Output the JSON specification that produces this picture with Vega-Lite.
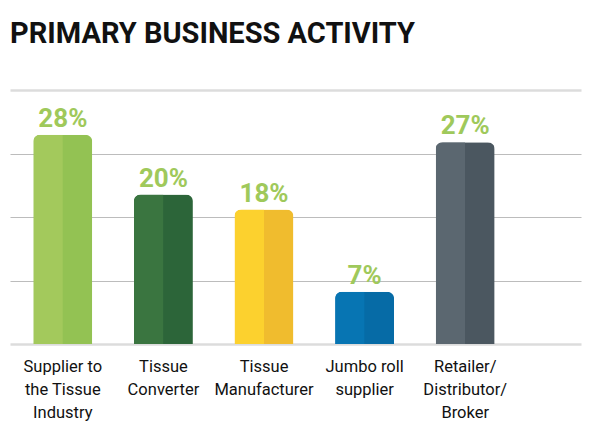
{
  "$schema": "https://vega.github.io/schema/vega-lite/v6.json",
  "width": 571,
  "height": 254,
  "autosize": {"type": "none"},
  "padding": {"left": 10, "top": 90, "right": 10, "bottom": 93},
  "background": "white",
  "title": {
    "text": "PRIMARY BUSINESS ACTIVITY",
    "anchor": "start",
    "font": "Roboto",
    "fontSize": 29,
    "fontWeight": "bold",
    "color": "#111111",
    "offset": 18,
    "baseline": "alphabetic"
  },
  "config": {"view": {"stroke": null}},
  "data": {
    "values": [
      {"activity": "Supplier to|the Tissue|Industry", "pct": 28, "label": "28%"},
      {"activity": "Tissue|Converter", "pct": 20, "label": "20%"},
      {"activity": "Tissue|Manufacturer", "pct": 18, "label": "18%"},
      {"activity": "Jumbo roll|supplier", "pct": 7, "label": "7%"},
      {"activity": "Retailer/|Distributor/|Broker", "pct": 27, "label": "27%"}
    ]
  },
  "encoding": {
    "x": {
      "field": "activity",
      "type": "nominal",
      "sort": null,
      "title": null,
      "scale": {"paddingInner": 0.414, "paddingOuter": 0.545, "align": 0.213},
      "axis": {
        "domain": false,
        "ticks": false,
        "grid": false,
        "labelAngle": 0,
        "labelFont": "Roboto",
        "labelFontSize": 16.5,
        "labelColor": "#111111",
        "labelPadding": 14,
        "labelBaseline": "top",
        "labelLineHeight": 23,
        "labelLimit": 200,
        "labelExpr": "split(datum.label, '|')"
      }
    },
    "y": {
      "field": "pct",
      "type": "quantitative",
      "title": null,
      "scale": {"domain": [0, 34], "nice": false},
      "axis": {
        "values": [0, 8.5, 17, 25.5, 34],
        "grid": true,
        "labels": false,
        "ticks": false,
        "domain": false,
        "gridColor": {"condition": {"test": "datum.value === 0 || datum.value === 34", "value": "#dcdcdc"}, "value": "#bcbcbc"},
        "gridWidth": {"condition": {"test": "datum.value === 0 || datum.value === 34", "value": 2.5}, "value": 1.2}
      }
    }
  },
  "layer": [
    {
      "mark": {"type": "bar", "cornerRadiusTopLeft": 7, "cornerRadiusTopRight": 7},
      "encoding": {
        "color": {
          "field": "activity",
          "type": "nominal",
          "sort": null,
          "legend": null,
          "scale": {"range": ["#93c253", "#2c6539", "#f0bc2e", "#066ba6", "#4b5760"]}
        }
      }
    },
    {
      "mark": {"type": "bar", "width": 29.5, "xOffset": -14.75, "cornerRadiusTopLeft": 7},
      "encoding": {
        "color": {
          "field": "activity",
          "type": "nominal",
          "sort": null,
          "legend": null,
          "scale": {"range": ["#a3c95c", "#3a7540", "#fcd12e", "#0775b3", "#5b6770"]}
        }
      }
    },
    {
      "mark": {
        "type": "text",
        "dy": -8,
        "baseline": "alphabetic",
        "font": "Roboto",
        "fontSize": 26,
        "fontWeight": "bold",
        "color": "#9fc95b"
      },
      "encoding": {"text": {"field": "label"}}
    }
  ],
  "resolve": {"scale": {"color": "independent"}}
}
